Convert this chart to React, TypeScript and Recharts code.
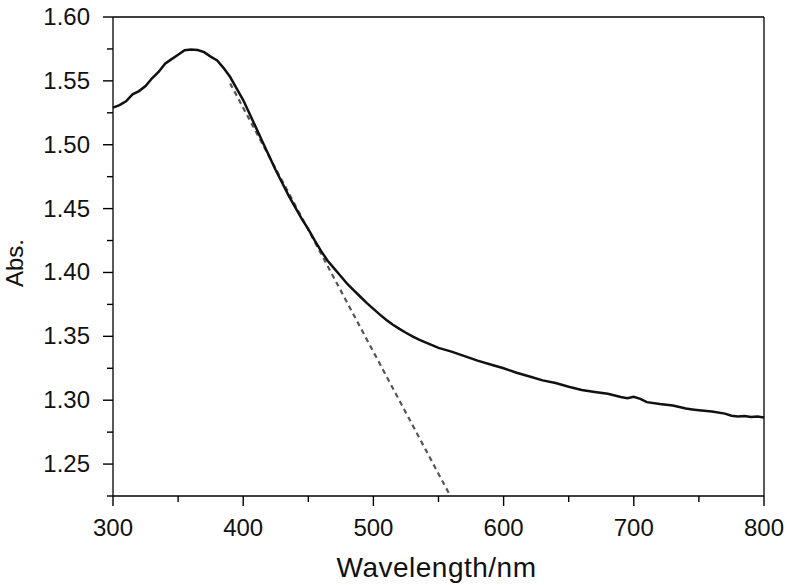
import React from "react";
import {
  LineChart,
  Line,
  XAxis,
  YAxis,
  ReferenceLine,
} from "recharts";

// absorption spectrum
const wavelengths = [
  300, 305, 310, 315, 320, 325, 330, 335, 340, 345, 350, 355, 360, 365, 370,
  375, 380, 385, 390, 395, 400, 405, 410, 415, 420, 425, 430, 435, 440, 445,
  450, 455, 460, 465, 470, 475, 480, 485, 490, 495, 500, 505, 510, 515, 520,
  525, 530, 535, 540, 550, 560, 570, 580, 590, 600, 610, 620, 630, 640, 650,
  660, 670, 680, 690, 695, 700, 705, 710, 720, 730, 740, 745, 750, 760, 770,
  775, 780, 785, 790, 795, 800,
];
const absorbance = [
  1.529, 1.531, 1.534, 1.5395, 1.542, 1.546, 1.552, 1.557, 1.5635, 1.567,
  1.5705, 1.574, 1.5745, 1.5742, 1.5725, 1.569, 1.566, 1.56, 1.553, 1.544,
  1.535, 1.524, 1.513, 1.502, 1.491, 1.48, 1.47, 1.46, 1.451, 1.442, 1.434,
  1.425, 1.4165, 1.409, 1.403, 1.397, 1.391, 1.386, 1.381, 1.376, 1.3715,
  1.367, 1.3628, 1.359, 1.3558, 1.3528, 1.35, 1.3475, 1.3452, 1.341, 1.338,
  1.3345, 1.331, 1.328, 1.325, 1.3215, 1.3185, 1.3155, 1.3135, 1.3105, 1.308,
  1.3065, 1.305, 1.3025, 1.3015, 1.3027, 1.301, 1.2985, 1.297, 1.2958, 1.2935,
  1.2928, 1.2922, 1.2912, 1.2895, 1.2878, 1.2872, 1.2877, 1.2868, 1.2872,
  1.2865,
];

// tangent (dashed) line end points
const tangentWavelengths = [390, 560];
const tangentAbsorbance = [1.548, 1.2233];

const xDomain = [300, 800];
const yDomain = [1.225, 1.6];
const xMajorTicks = [300, 400, 500, 600, 700, 800];
const xMinorTicks = [350, 450, 550, 650, 750];
const yMajorTicks = [1.25, 1.3, 1.35, 1.4, 1.45, 1.5, 1.55, 1.6];
const yMinorTicks = [1.225, 1.275, 1.325, 1.375, 1.425, 1.475, 1.525, 1.575];

const spectrum = wavelengths.map((wl, i) => ({ wl, abs: absorbance[i] }));
const tangent = tangentWavelengths.map((wl, i) => ({
  wl,
  abs: tangentAbsorbance[i],
}));

const axisStroke = { stroke: "#000", strokeWidth: 1.3 };

const isIn = (list: number[], v: number) =>
  list.some((t) => Math.abs(t - v) < 1e-6);

// tick marks drawn as thin rects, labels only on major ticks
const XTick = (props: any) => {
  const x = Number(props.x);
  const y = Number(props.y);
  const v = props.payload.value;
  const major = isIn(xMajorTicks, v);
  return (
    <g>
      <rect x={x - 0.7} y={y} width={1.4} height={major ? 10 : 6} fill="#000" />
      {major && (
        <text x={x} y={y + 40} textAnchor="middle" fontSize={24} fill="#111">
          {v}
        </text>
      )}
    </g>
  );
};

const YTick = (props: any) => {
  const x = Number(props.x);
  const y = Number(props.y);
  const v = props.payload.value;
  const major = isIn(yMajorTicks, v);
  const len = major ? 10 : 6;
  return (
    <g>
      <rect x={x - len} y={y - 0.7} width={len} height={1.4} fill="#000" />
      {major && (
        <text x={x - 23} y={y + 8} textAnchor="end" fontSize={24} fill="#111">
          {v.toFixed(2)}
        </text>
      )}
    </g>
  );
};

export default function App() {
  return (
    <div style={{ position: "absolute", left: 0, top: 0 }}>
      <LineChart
        width={787}
        height={585}
        margin={{ top: 17, right: 23, bottom: 0, left: 0 }}
        style={{ fontFamily: '"Liberation Sans", Arial, sans-serif' }}
      >
        <XAxis
          dataKey="wl"
          type="number"
          domain={xDomain}
          ticks={[...xMajorTicks, ...xMinorTicks].sort((a, b) => a - b)}
          interval={0}
          height={89}
          tickSize={0}
          tickMargin={0}
          tickLine={false}
          axisLine={axisStroke}
          tick={XTick}
          label={{
            content: (p: any) => {
              const vb = p.viewBox;
              return (
                <text
                  x={vb.x + vb.width / 2 - 2}
                  y={vb.y + 81}
                  textAnchor="middle"
                  fontSize={28}
                  letterSpacing={0.5}
                  fill="#111"
                >
                  Wavelength/nm
                </text>
              );
            },
          }}
        />
        <YAxis
          type="number"
          domain={yDomain}
          allowDataOverflow
          ticks={[...yMajorTicks, ...yMinorTicks].sort((a, b) => a - b)}
          interval={0}
          width={113}
          tickSize={0}
          tickMargin={0}
          tickLine={false}
          axisLine={axisStroke}
          tick={YTick}
          label={{
            content: () => (
              <text
                x={23}
                y={263}
                transform="rotate(-90 23 263)"
                textAnchor="middle"
                fontSize={24}
                fill="#111"
              >
                Abs.
              </text>
            ),
          }}
        />
        {/* top and right frame */}
        <ReferenceLine y={yDomain[1]} stroke="#000" strokeWidth={1.3} />
        <ReferenceLine x={xDomain[1]} stroke="#000" strokeWidth={1.3} />
        <Line
          data={tangent}
          dataKey="abs"
          type="linear"
          stroke="#555"
          strokeWidth={2.2}
          strokeDasharray="5 4"
          dot={false}
          isAnimationActive={false}
        />
        <Line
          data={spectrum}
          dataKey="abs"
          type="linear"
          stroke="#111"
          strokeWidth={2.5}
          dot={false}
          isAnimationActive={false}
        />
      </LineChart>
    </div>
  );
}
